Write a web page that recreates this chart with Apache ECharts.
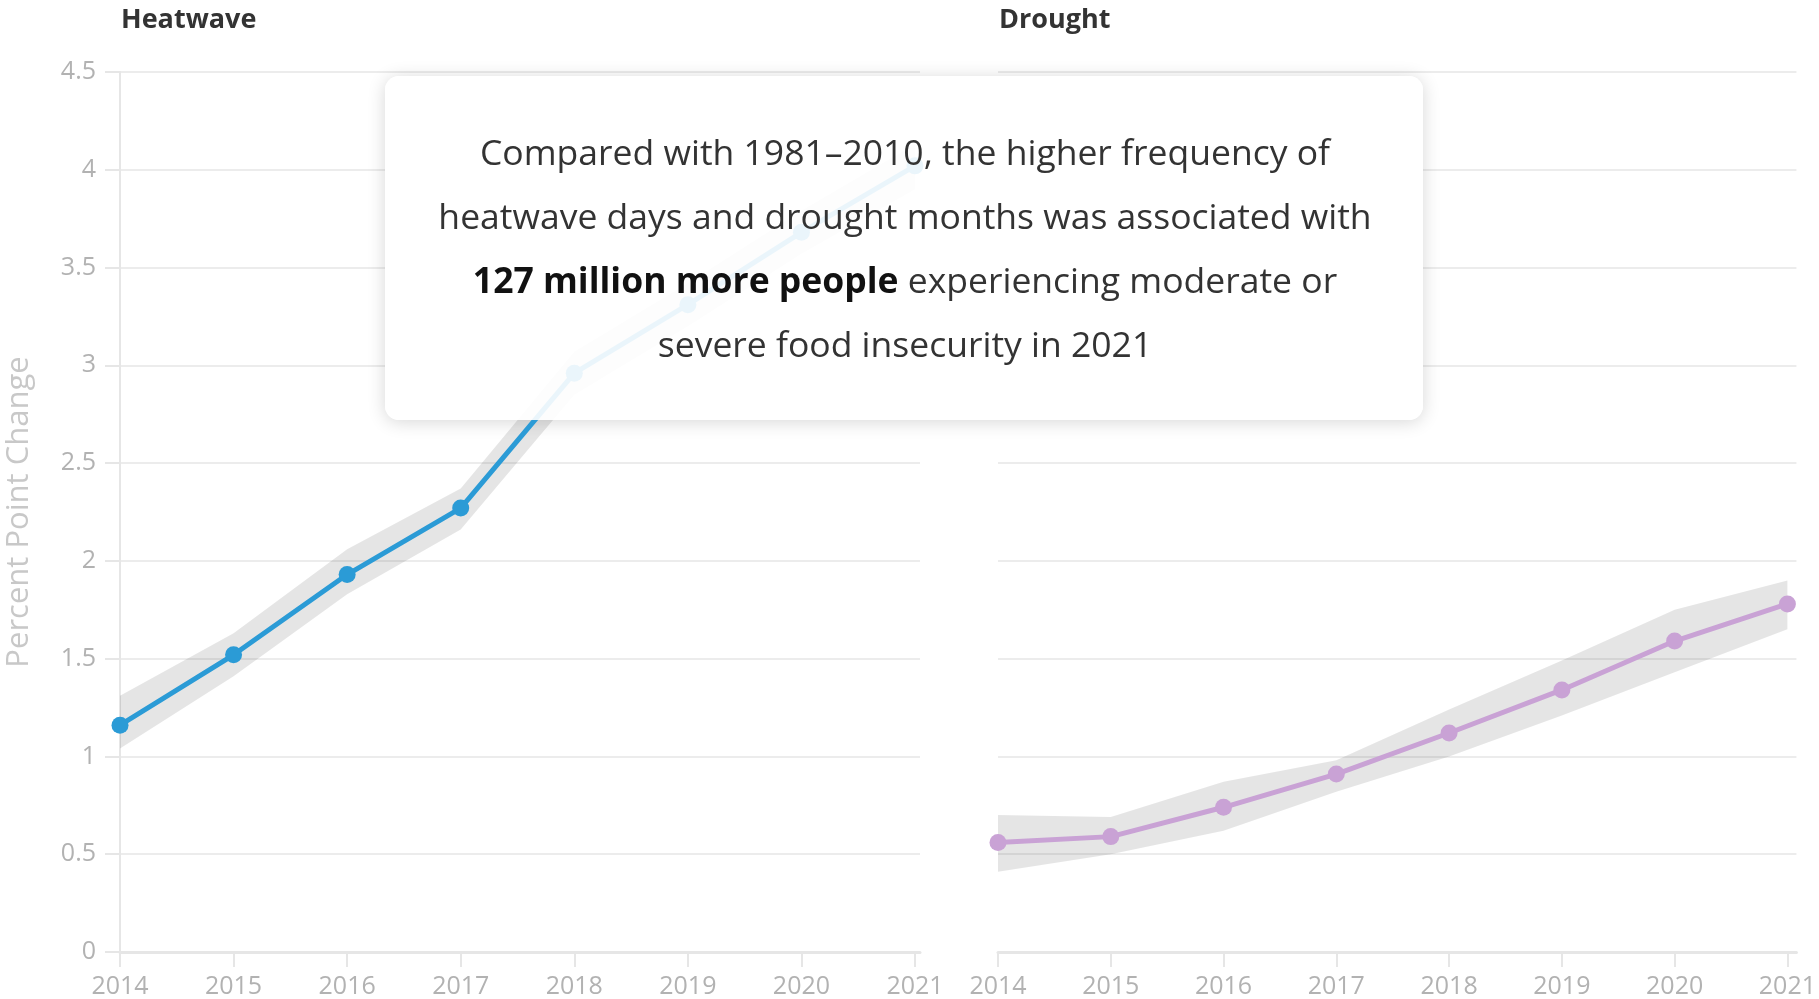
<!DOCTYPE html>
<html>
<head>
<meta charset="utf-8">
<script src="https://cdn.jsdelivr.net/npm/echarts@6/dist/echarts.min.js"></script>
<style>
  html, body { margin: 0; padding: 0; background: #fff; }
  #chart { width: 1819px; height: 999px; }
</style>
</head>
<body>
<div id="chart"></div>
<script>
// ---- data ----
const years = [2014, 2015, 2016, 2017, 2018, 2019, 2020, 2021];
const heatwave     = [1.16, 1.52, 1.93, 2.27, 2.96, 3.31, 3.68, 4.02];
const heatwaveLow  = [1.04, 1.41, 1.83, 2.16, 2.85, 3.20, 3.57, 3.90];
const heatwaveHigh = [1.31, 1.63, 2.06, 2.37, 3.07, 3.42, 3.79, 4.13];
const drought      = [0.56, 0.59, 0.74, 0.91, 1.12, 1.34, 1.59, 1.78];
const droughtLow   = [0.41, 0.50, 0.62, 0.82, 1.00, 1.21, 1.43, 1.65];
const droughtHigh  = [0.70, 0.69, 0.87, 0.98, 1.24, 1.49, 1.75, 1.90];
const panelTitles = ['Heatwave', 'Drought'];
const yAxisName = 'Percent Point Change';
const noteText = 'Compared with 1981\u20132010, the higher frequency of\nheatwave days and drought months was associated with\n{b|127 million more people} experiencing moderate or\nsevere food insecurity in 2021';

// ---- styles ----
const FONT = 'Open Sans';
const gridLineColor = '#ececec';
const axisColor = '#e6e6e6';
const labelColor = '#b2b2b2';
const bandColor = 'rgba(0,0,0,0.10)';

function pairs(vals) { return vals.map((v, i) => [years[i], v]); }

function xAxis(gi, maxExt) {
  return {
    type: 'value', gridIndex: gi, min: years[0], max: years[years.length - 1] + maxExt,
    axisLine: { show: true, onZero: false, lineStyle: { color: axisColor, width: 3 } },
    axisTick: { show: true, length: 15, customValues: years, lineStyle: { color: axisColor, width: 2 } },
    axisLabel: { color: labelColor, fontSize: 25, fontFamily: FONT, margin: 22, customValues: years,
      formatter: v => String(Math.round(v)) },
    splitLine: { show: false }
  };
}
function yAxis(gi, showLabels) {
  const a = {
    type: 'value', gridIndex: gi, min: 0, max: 4.5, interval: 0.5,
    axisLine: { show: showLabels, lineStyle: { color: axisColor, width: 2 } },
    axisTick: { show: showLabels, length: 15, lineStyle: { color: axisColor, width: 2 } },
    axisLabel: { show: showLabels, color: labelColor, fontSize: 25, fontFamily: FONT, margin: 24 },
    splitLine: { show: true, lineStyle: { color: gridLineColor, width: 2 } }
  };
  if (showLabels) {
    a.name = yAxisName;
    a.nameLocation = 'middle';
    a.nameGap = 85;
    a.nameTextStyle = { color: '#c8c8c8', fontSize: 31, fontFamily: FONT };
  }
  return a;
}
// confidence band drawn as one polygon through the axis scales (api.coord)
function bandSeries(gi, lo, hi) {
  return {
    type: 'custom', coordinateSystem: 'cartesian2d', xAxisIndex: gi, yAxisIndex: gi,
    silent: true, z: 2,
    data: years.map((y, i) => [y, lo[i], hi[i]]),
    encode: { x: 0, y: [1, 2] },
    renderItem: function (params, api) {
      if (params.dataIndexInside !== 0) return null;
      const pts = [];
      for (let i = 0; i < years.length; i++) pts.push(api.coord([years[i], hi[i]]));
      for (let i = years.length - 1; i >= 0; i--) pts.push(api.coord([years[i], lo[i]]));
      return { type: 'polygon', shape: { points: pts }, style: { fill: bandColor } };
    }
  };
}
function mainSeries(gi, data, color) {
  return { type: 'line', xAxisIndex: gi, yAxisIndex: gi, data: pairs(data),
    symbol: 'circle', symbolSize: 17, showSymbol: true,
    lineStyle: { color: color, width: 5 }, itemStyle: { color: color }, z: 3 };
}

const box = { x: 385, y: 76, width: 1038, height: 344, r: 14 };

const chart = echarts.init(document.getElementById('chart'), null, { renderer: 'canvas' });
chart.setOption({
  backgroundColor: '#ffffff',
  animation: false,
  title: [
    { text: panelTitles[0], left: 116, top: 2, textStyle: { fontFamily: FONT, fontWeight: 'bold', fontSize: 27, color: '#333' } },
    { text: panelTitles[1], left: 994, top: 2, textStyle: { fontFamily: FONT, fontWeight: 'bold', fontSize: 27, color: '#333' } }
  ],
  grid: [
    { left: 120, width: 800, top: 72, bottom: 47 },
    { left: 998, width: 800, top: 72, bottom: 47 }
  ],
  xAxis: [xAxis(0, 0.044), xAxis(1, 0.08)],
  yAxis: [yAxis(0, true), yAxis(1, false)],
  series: [
    bandSeries(0, heatwaveLow, heatwaveHigh),
    mainSeries(0, heatwave, '#2b9bd6'),
    bandSeries(1, droughtLow, droughtHigh),
    mainSeries(1, drought, '#c9a2d5')
  ],
  graphic: [
    { type: 'rect', z: 1, silent: true, shape: box,
      style: { fill: '#ffffff', shadowBlur: 18, shadowColor: 'rgba(0,0,0,0.16)', shadowOffsetY: 2 } },
    { type: 'rect', z: 100, silent: true, shape: box,
      style: { fill: 'rgba(255,255,255,0.9)' } },
    { type: 'text', z: 101, silent: true, x: 905, y: 251,
      style: { text: noteText, align: 'center', verticalAlign: 'middle',
        fontFamily: FONT, fontSize: 35.5, lineHeight: 64, fill: '#333',
        rich: { b: { fontFamily: FONT, fontSize: 35.5, lineHeight: 64, fontWeight: 'bold', fill: '#111' } } } }
  ]
});
</script>
</body>
</html>
